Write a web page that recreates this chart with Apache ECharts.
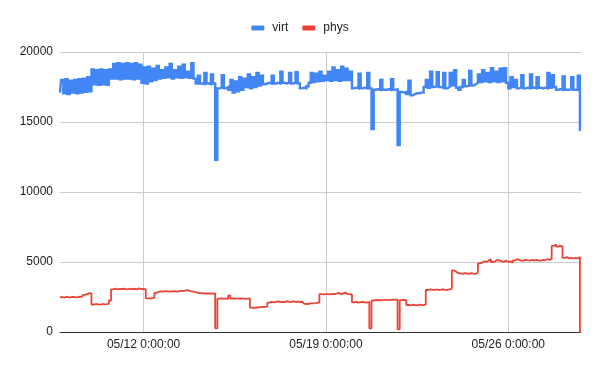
<!DOCTYPE html>
<html>
<head>
<meta charset="utf-8">
<script src="https://cdn.jsdelivr.net/npm/echarts@6/dist/echarts.min.js"></script>
<style>
  html, body { margin: 0; padding: 0; background: #fff; }
  #chart { width: 600px; height: 371px; }
</style>
</head>
<body>
<div id="chart"></div>
<script>
// x positions: hours relative to 05/12 0:00:00, sampled every 2 hours
var startHour = -77;
var stepHours = 2;

var xTickHours = [0, 168, 336];
var xTickLabels = ['05/12 0:00:00', '05/19 0:00:00', '05/26 0:00:00'];
var yTicks = [0, 5000, 10000, 15000, 20000];

var virt = [
  17100, 18000, 17050, 18050, 17000, 17950, 17100, 18000, 17050, 18050,
  17100, 18100, 17150, 18200, 17200,
  18750,
  17700, 18700, 17650, 18750, 17700, 18700, 17650, 18750,
  18100, 19150, 18100, 19200, 18050, 19150, 18100, 19200, 18100, 19150, 18050, 19200, 18100, 19100,
  17800, 18900, 17750, 18950, 17900, 18800, 18000, 19000, 18100, 18700,
  18150, 18900, 18200, 19150, 18100, 18700, 18200, 18950, 18150, 19100,
  18200, 18600, 18150, 19200, 18100,
  17750, 18300, 17750, 17700, 18500, 17750, 17700, 18400, 17750,
  12300,
  17400, 17450, 18350, 17400, 17500,
  17300, 18000, 17100, 17900, 17200, 18200, 17300, 18100, 17500, 18400, 17400, 18200, 17500, 18500, 17600, 18300, 17700,
  17750, 17800, 17750, 18300, 17750, 17800, 17750, 18600, 17800, 17750, 17800, 18500, 17750, 17800, 18550, 17750,
  17400, 17450, 17400, 17550,
  17800, 18500, 17850, 18450, 17900, 18600, 17950, 18300,
  18000, 18600, 17950, 18900, 18000, 18700, 17950, 18950, 18000, 18800, 18000, 18600,
  17400, 17450, 17400, 18450, 17400, 17450, 17400, 18500, 17400,
  14500,
  17300, 17350, 17300, 18000, 17300, 17300, 17350, 17300, 18050, 17300, 17350,
  13350,
  17150, 17100, 17150, 17000, 17950, 16900, 17000, 17050, 17050, 17100, 17100,
  17500, 18000, 17450, 18600, 17500, 17550, 18550, 17500, 17450, 18500, 17400, 17500,
  18500, 17600, 18700, 17450, 17300, 17500, 18000, 17550, 17600, 18650, 17600, 17700,
  17800, 18400, 17850, 18700, 17900, 18500, 17850, 18850, 17900, 18600, 17850, 18800, 17900, 18850, 17800,
  17400, 18200, 17500, 18000, 17400, 17450, 18350, 17400, 17450, 17400, 18400, 17450, 17400, 18200, 17450, 17400, 17450, 17400, 18500, 17450,
  18350, 17500, 17300, 17350, 17300, 18250, 17300, 17300, 17350, 18200, 17300, 17300, 18300,
  14450
];

var phys = [
  2480, 2500, 2460, 2520, 2480, 2470, 2510, 2490, 2480, 2530, 2500, 2650, 2700, 2780, 2750,
  1950, 2000, 1980, 1960, 2000, 1980, 1990, 2010,
  2250,
  3050, 3100, 3050, 3080, 3060, 3100, 3050, 3070, 3100, 3060, 3080, 3050, 3120, 3060, 3080, 3050,
  2400, 2380, 2420, 2450,
  2800, 2880, 2900, 2880, 2920, 2900, 2880, 2900, 2920, 2900, 2880, 2950, 2920, 2950, 3000, 2950, 2900, 2880, 2850,
  2800, 2780, 2760, 2770, 2750, 2760, 2750, 2740, 2760,
  260,
  2380, 2400, 2380, 2390, 2370, 2600, 2380, 2400, 2390, 2380, 2400, 2380, 2370, 2390, 2400,
  1740, 1720, 1750, 1760, 1780, 1790, 1800, 1820,
  2100, 2150, 2120, 2150, 2180, 2140, 2160, 2130, 2200, 2150, 2140, 2180, 2150, 2170, 2140, 2160,
  2020, 2000, 2010, 2040, 2050, 2060, 2080, 2120,
  2700, 2680, 2700, 2710, 2690, 2720, 2700, 2750, 2800, 2700, 2760, 2820, 2700, 2680, 2700,
  2120, 2150, 2100, 2130, 2150, 2120, 2100, 2150,
  260,
  2250, 2280, 2300, 2260, 2280, 2300, 2290, 2280, 2300, 2320, 2300, 2330,
  190,
  2280, 2300, 2280,
  1930, 1900, 1950, 1920, 1900, 1950, 1930, 1920, 1950,
  3000, 3050, 3020, 3000, 3040, 3000, 3020, 3050, 3010, 3000, 3040, 3100,
  4400, 4300, 4200, 4180, 4150, 4200, 4180, 4150, 4200, 4170, 4150, 4250,
  4900, 4950, 5050, 5000, 5100, 5200, 5000, 5050, 5150, 5100, 5050, 5000, 5100,
  5000, 5050, 4950, 5100, 5200, 5150, 5100, 5100, 5150, 5120, 5100, 5150, 5100, 5150, 5100, 5100, 5150, 5120, 5200, 5150, 5200,
  6150, 6250, 6100, 6150, 6100,
  5300, 5350, 5250, 5300, 5250, 5300, 5250, 5350,
  0
];

function toPairs(vals) {
  return vals.map(function (v, i) { return [startHour + i * stepHours, v]; });
}
var endHour = startHour + (Math.max(virt.length, phys.length) - 1) * stepHours;

var chart = echarts.init(document.getElementById('chart'), null, { renderer: 'canvas' });
chart.setOption({
  animation: false,
  textStyle: { fontFamily: 'Arial, "Liberation Sans", sans-serif' },
  legend: {
    top: 17,
    left: 'center',
    icon: 'roundRect',
    itemWidth: 13,
    itemHeight: 5,
    itemGap: 14,
    textStyle: { fontSize: 12, color: '#222', padding: [0, 0, 0, 3] },
    data: ['virt', 'phys']
  },
  grid: { left: 60, right: 19, top: 52, bottom: 39, containLabel: false },
  xAxis: {
    type: 'value',
    min: startHour,
    max: endHour,
    axisLine: { show: true, onZero: true, lineStyle: { color: '#333', width: 1 } },
    axisTick: { show: false, customValues: xTickHours },
    splitLine: { show: true, lineStyle: { color: '#cccccc', width: 1 } },
    axisLabel: {
      customValues: xTickHours,
      margin: 7,
      fontSize: 12,
      color: '#222',
      formatter: function (v) {
        var k = xTickHours.indexOf(v);
        return k >= 0 ? xTickLabels[k] : '';
      }
    }
  },
  yAxis: {
    type: 'value',
    min: yTicks[0],
    max: yTicks[yTicks.length - 1],
    interval: yTicks[1] - yTicks[0],
    axisLine: { show: false },
    axisTick: { show: false },
    splitLine: { show: true, lineStyle: { color: '#cccccc', width: 1 } },
    axisLabel: {
      margin: 7, fontSize: 12, color: '#222',
      formatter: function (v) { return String(v); }
    }
  },
  series: [
    {
      name: 'virt',
      type: 'line',
      step: 'middle',
      data: toPairs(virt),
      showSymbol: false,
      symbol: 'none',
      color: '#4285F4',
      lineStyle: { color: '#4285F4', width: 2.4, join: 'miter' },
      z: 2
    },
    {
      name: 'phys',
      type: 'line',
      step: 'middle',
      data: toPairs(phys),
      showSymbol: false,
      symbol: 'none',
      color: '#EA4335',
      lineStyle: { color: '#EA4335', width: 1.8 },
      z: 3
    }
  ]
});
</script>
</body>
</html>
